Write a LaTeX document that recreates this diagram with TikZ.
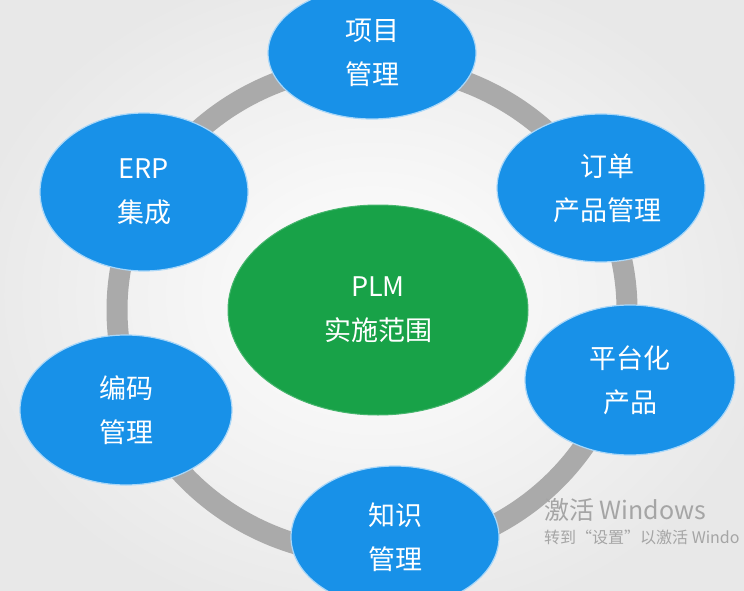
\documentclass[tikz,border=0pt]{standalone}
\usepackage{fontspec}
\newfontfamily\cjk{Noto Sans CJK SC}
\usetikzlibrary{shapes.geometric}
\definecolor{bluefill}{RGB}{24,145,232}
\definecolor{blueedge}{RGB}{170,215,248}
\definecolor{greenfill}{RGB}{24,162,72}
\definecolor{ringgray}{RGB}{170,170,170}
\definecolor{wmgray}{RGB}{165,165,165}
\tikzset{
  bubble/.style={ellipse, fill=bluefill, draw=blueedge, line width=1.2pt,
    inner sep=0pt, minimum width=#1, text=white,
    font=\cjk\fontsize{27}{44}\selectfont, align=center},
  bubble/.default={208pt},
  core/.style={ellipse, fill=greenfill, draw=greenfill!80!white, line width=1pt,
    inner sep=0pt, minimum width=300pt, minimum height=210pt, text=white,
    font=\cjk\fontsize{27}{44}\selectfont, align=center},
  wm/.style={text=wmgray, inner sep=0pt, anchor=west}
}
\begin{document}
\begin{tikzpicture}[x=1pt,y=-1pt]
\useasboundingbox (0,0) rectangle (744,591);
\clip (0,0) rectangle (744,591);
\shade[inner color=white, outer color=black!9] (-40,-40) rectangle (784,631);
% ring
\draw[line width=21pt, ringgray] (372,310) ellipse [x radius=255, y radius=245];
% center
\node[core] (plm) at (378,310) {PLM\\实施范围};
% satellites
\node[bubble, minimum height=132pt] (xm) at (372,53) {项目\\管理};
\node[bubble, minimum height=158pt] (erp) at (144,192) {ERP\\集成};
\node[bubble, minimum height=148pt] (dd) at (601,188) {\hspace*{12pt}订单\\\hspace*{12pt}产品管理};
\node[bubble, minimum width=210pt, minimum height=150pt] (pt) at (630,380) {平台化\\产品};
\node[bubble, minimum width=212pt, minimum height=150pt] (bm) at (126,410) {编码\\管理};
\node[bubble, minimum height=142pt] (zs) at (395,537) {知识\\管理};
% watermark
\node[wm, font=\cjk\fontsize{25}{25}\selectfont] (wm1) at (544,510) {激活 Windows};
\node[wm, font=\cjk\fontsize{16}{16}\selectfont] (wm2) at (544,537) {转到“设置”以激活 Windo};
\end{tikzpicture}
\end{document}
